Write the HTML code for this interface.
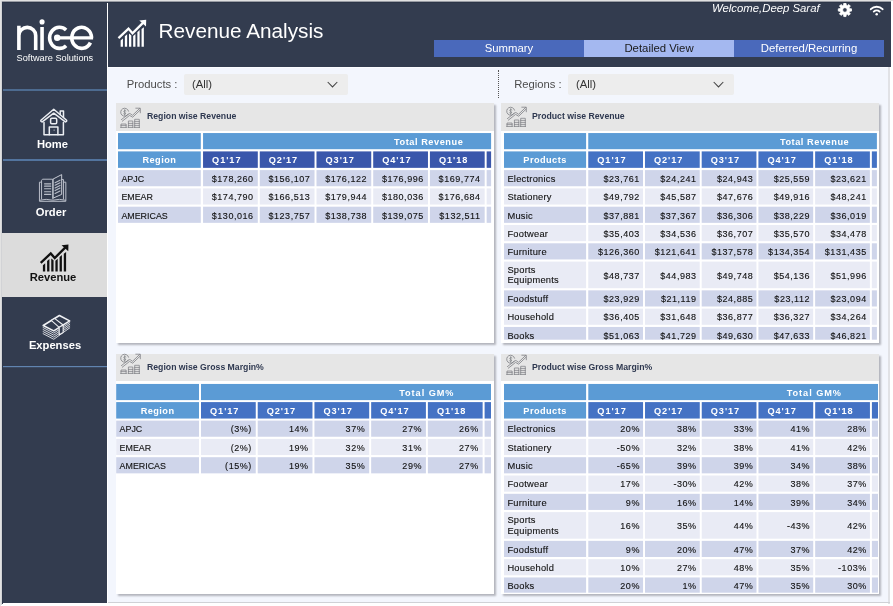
<!DOCTYPE html><html><head><meta charset="utf-8"><title>Revenue Analysis</title><style>
*{box-sizing:border-box;margin:0;padding:0}
html,body{width:893px;height:606px;overflow:hidden;background:#fff}
body{font-family:"Liberation Sans",sans-serif;position:relative;color:#111}
.abs{position:absolute}
#side{left:2px;top:1px;width:105px;height:602px;background:#333c4f}
#head{left:108px;top:1px;width:783px;height:66px;background:#333c4f}
#content{left:108px;top:67px;width:780px;height:536px;background:#f3f6fd}
.navlbl{position:absolute;left:0;width:105px;text-align:center;font-weight:bold;font-size:11.2px;line-height:12px;color:#fff}
.sdiv{position:absolute;left:0;width:105px;height:2px;background:#45607f}
.tab{position:absolute;top:40px;height:17px;width:150px;text-align:center;font-size:11.35px;line-height:17px;color:#fff;background:#4a69bb}
.flt{position:absolute;font-size:11.25px;line-height:14px;color:#333}
.dd{position:absolute;background:#ededed;border-radius:2px}
.panel{position:absolute;background:#fff;box-shadow:1.5px 2px 1.8px rgba(85,85,92,.40)}
.ptitle{position:absolute;left:0;top:0;right:0;background:#e6e6e6}
.ptxt{position:absolute;font-weight:bold;font-size:8.7px;line-height:10px;color:#2e3850;white-space:nowrap}
.t{position:absolute;white-space:nowrap;line-height:12px}
.hd{color:#fff;font-weight:bold;font-size:9.2px;letter-spacing:.45px}
.lbl{font-size:8.9px;letter-spacing:0;color:#111;-webkit-text-stroke:.12px #111}
.num{font-size:9px;letter-spacing:.55px;color:#111;text-align:right;-webkit-text-stroke:.12px #111}
</style></head><body><div id="root" style="position:absolute;left:0;top:0;width:893px;height:606px;will-change:transform">
<div class="abs" style="left:0;top:0;width:893px;height:1px;background:#e1e1e1"></div>
<div class="abs" style="left:0;top:0;width:1px;height:606px;background:#e2e2e2"></div>
<div class="abs" style="left:1px;top:1px;width:1px;height:604px;background:#d2d3d6"></div>
<div class="abs" style="left:2px;top:1px;width:889px;height:1px;background:#999ca4;z-index:5"></div>
<div class="abs" style="left:2px;top:2px;width:889px;height:1px;background:#2c3547;z-index:5"></div>
<div class="abs" style="left:2px;top:2px;width:1px;height:231px;background:#2e374a;z-index:5"></div>
<div class="abs" style="left:2px;top:297px;width:1px;height:307px;background:#2e374a;z-index:5"></div>
<div class="abs" style="left:107px;top:2px;width:1px;height:602px;background:#fff"></div>
<div id="content" class="abs"></div>
<div class="abs" style="left:888px;top:67px;width:2px;height:537px;background:#e1e2e6"></div>
<div class="abs" style="left:108px;top:67px;width:780px;height:1px;background:#fbfcff"></div>
<div class="abs" style="left:108px;top:602px;width:782px;height:1px;background:#cfd1d6"></div>
<div id="side" class="abs">
<svg class="abs" style="left:0;top:0" width="105" height="70" viewBox="2 1 105 70">
<g fill="none" stroke="#fff" stroke-width="3.6">
<path d="M18.9 50.1 V25.7 M18.9 35.4 A8.4 8.0 0 0 1 35.7 35.4 V50.1"/>
<path d="M42.05 27 V50.1"/>
<path d="M66.12 30.01 A9.9 10.55 0 1 0 66.12 45.69"/>
<path d="M91.5 37.8 A9.85 10.55 0 1 0 90.43 42.64"/>
<path d="M57.2 37.8 H93.1" stroke-width="3.2"/>
</g>
<circle cx="42.05" cy="21.9" r="2.55" fill="#fff"/>
<circle cx="57.2" cy="37.8" r="3.25" fill="#fff"/>
</svg>
<div class="abs" style="left:14.6px;top:51.6px;font-size:9.2px;line-height:11px;color:#fff;white-space:nowrap">Software Solutions</div>
<div class="sdiv" style="top:88px;background:#4d6b90"></div>
<div class="sdiv" style="top:158px;background:#53749e"></div>
<div class="abs" style="left:0;top:232px;width:105px;height:64px;background:#dcdcdc"></div>
<div class="sdiv" style="top:365px;height:1px;background:#6184b0"></div><div class="sdiv" style="top:366px;height:1px;background:#3c4a62"></div>
<svg class="abs" style="left:0;top:0" width="105" height="400" viewBox="2 1 105 400"><g fill="none" stroke="#eceef2" stroke-width="1.5" stroke-linejoin="round" stroke-linecap="round">
<path d="M40.9 120.2 L53.75 109.3 L66.6 120.2 Q67.1 121.7 65.3 121.9 L53.75 113.2 L42.2 121.9 Q40.4 121.7 40.9 120.2 Z"/>
<path d="M44 122.4 V134.75 H63.4 V122.4"/>
<path d="M60.2 114.4 V110.9 H63.5 V117.2"/>
<rect x="50.6" y="118.3" width="6.1" height="5.5" rx="1.2"/>
<path d="M49.3 134.75 V126.9 H57.9 V134.75"/>
</g><circle cx="54.1" cy="130.1" r=".6" fill="#d5d8de"/><g fill="none" stroke="#b9bec9" stroke-width="1" stroke-linejoin="round" stroke-linecap="round"><path d="M41.55 182.18 L39.44 182.18 L39.44 201.31 L65.83 201.31 L65.83 182.18 L63.65 182.18 "/><path d="M41.55 199.00 L41.55 180.20 L42.54 179.21 L52.77 179.21 L52.77 199.00 "/><path d="M62.00 179.54 L63.45 179.54 L63.45 199.00 "/><path d="M53.43 178.88 L61.67 174.60 L61.67 194.39 L53.43 198.01 Z" stroke="#c6cad3"/><path d="M39.91 200.19 Q46.17 198.47 52.77 200.19 Q59.36 198.47 65.50 200.19"/><path d="M44.52 183.83 L50.79 183.83 " stroke-width="1.1"/><path d="M44.52 186.14 L50.79 186.14 " stroke-width="1.1"/><path d="M44.52 188.78 L50.79 188.78 " stroke-width="1.1"/><path d="M44.52 191.75 L50.79 191.75 " stroke-width="1.1"/><path d="M44.52 194.39 L50.79 194.39 " stroke-width="1.1"/><path d="M55.08 182.64 L60.02 180.14 " stroke-width="1.1"/><path d="M55.08 185.28 L60.02 182.78 " stroke-width="1.1"/><path d="M55.08 187.92 L60.02 185.41 " stroke-width="1.1"/><path d="M55.08 190.56 L60.02 188.05 " stroke-width="1.1"/><path d="M55.08 193.40 L60.02 190.89 " stroke-width="1.1"/></g><path d="M41.55 262.10 L50.75 253.40 L54.75 258.00 L64.85 248.00" fill="none" stroke="#111" stroke-width="2.3" stroke-linejoin="miter" stroke-linecap="square"/><path d="M61.55 245.20 L68.45 244.60 L68.25 251.30 Z" fill="#111"/><path d="M42.90 271.50 L42.90 265.20 L45.20 263.20 L45.20 271.50 Z" fill="#111"/><path d="M47.10 271.50 L47.10 261.10 L49.40 259.10 L49.40 271.50 Z" fill="#111"/><path d="M51.25 271.50 L51.25 258.40 L53.55 260.20 L53.55 271.50 Z" fill="#111"/><path d="M55.40 271.50 L55.40 260.80 L57.70 258.70 L57.70 271.50 Z" fill="#111"/><path d="M59.60 271.50 L59.60 257.10 L61.90 254.90 L61.90 271.50 Z" fill="#111"/><path d="M63.80 271.50 L63.80 253.70 L66.10 252.00 L66.10 271.50 Z" fill="#111"/><g fill="none" stroke="#f0f1f4" stroke-width="1.05" stroke-linejoin="round" stroke-linecap="round"><path d="M43.10 327.53 L53.79 333.13 L69.75 322.61 " stroke-width=".9" stroke="#e4e6eb"/><path d="M43.10 329.57 L53.79 335.18 L69.75 324.36 " stroke-width=".9" stroke="#e4e6eb"/><path d="M43.10 331.61 L53.79 337.22 L69.75 326.11 " stroke-width=".9" stroke="#e4e6eb"/><path d="M43.10 333.66 L53.79 339.27 L69.75 327.85 " stroke-width=".9" stroke="#e4e6eb"/><path d="M43.17 325.48 L59.40 315.52 L69.69 320.86 L53.79 330.89 Z" stroke-width="1.55"/><path d="M51.28 320.40 L54.58 318.42 L63.16 325.02 L59.20 327.33 Z" fill="#333c4f" stroke-width="1.1"/><path d="M59.20 327.33 L63.16 325.02 L63.16 332.54 L59.20 334.85 Z" fill="#333c4f" stroke-width="1.1"/></g></svg>
<div class="navlbl" style="top:136.5px;left:-2px">Home</div>
<div class="navlbl" style="top:204.5px;left:-3.5px">Order</div>
<div class="navlbl" style="top:270px;left:-1.5px;color:#111">Revenue</div>
<div class="navlbl" style="top:338px;left:.5px">Expenses</div>
</div>
<div id="head" class="abs">
<svg class="abs" style="left:0;top:0" width="60" height="66" viewBox="108 1 60 66"><path d="M119.30 37.30 L128.50 28.60 L132.50 33.20 L142.60 23.20" fill="none" stroke="#fff" stroke-width="2.3" stroke-linejoin="miter" stroke-linecap="square"/><path d="M139.30 20.40 L146.20 19.80 L146.00 26.50 Z" fill="#fff"/><path d="M120.65 46.70 L120.65 40.40 L122.95 38.40 L122.95 46.70 Z" fill="#fff"/><path d="M124.85 46.70 L124.85 36.30 L127.15 34.30 L127.15 46.70 Z" fill="#fff"/><path d="M129.00 46.70 L129.00 33.60 L131.30 35.40 L131.30 46.70 Z" fill="#fff"/><path d="M133.15 46.70 L133.15 36.00 L135.45 33.90 L135.45 46.70 Z" fill="#fff"/><path d="M137.35 46.70 L137.35 32.30 L139.65 30.10 L139.65 46.70 Z" fill="#fff"/><path d="M141.55 46.70 L141.55 28.90 L143.85 27.20 L143.85 46.70 Z" fill="#fff"/></svg>
<div class="abs" style="left:50.5px;top:18px;font-size:20.75px;line-height:24px;color:#fff;white-space:nowrap">Revenue Analysis</div>
<div class="abs" style="left:604px;top:1px;font-size:11.35px;line-height:13px;font-style:italic;color:#fff;white-space:nowrap">Welcome,Deep Saraf</div>
<svg class="abs" style="left:720px;top:0" width="63" height="24" viewBox="828 1 63 24"><path d="M849.74 8.71 L851.50 8.82 L851.50 11.08 L849.74 11.19 L849.20 12.50 L850.37 13.82 L848.77 15.42 L847.45 14.25 L846.14 14.79 L846.03 16.55 L843.77 16.55 L843.66 14.79 L842.35 14.25 L841.03 15.42 L839.43 13.82 L840.60 12.50 L840.06 11.19 L838.30 11.08 L838.30 8.82 L840.06 8.71 L840.60 7.40 L839.43 6.08 L841.03 4.48 L842.35 5.65 L843.66 5.11 L843.77 3.35 L846.03 3.35 L846.14 5.11 L847.45 5.65 L848.77 4.48 L850.37 6.08 L849.20 7.40Z M842.60 9.95 a2.30 2.30 0 1 0 4.60 0 a2.30 2.30 0 1 0 -4.60 0Z" fill="#fff" fill-rule="evenodd" stroke="#fff" stroke-width=".8" stroke-linejoin="round"/><circle cx="876.7" cy="14.3" r="1.25" fill="#fff"/><path d="M873.78 11.58 A4.20 4.20 0 0 1 879.62 11.58" fill="none" stroke="#fff" stroke-width="1.9" stroke-linecap="round"/><path d="M870.80 9.20 A8.20 8.20 0 0 1 882.60 9.20" fill="none" stroke="#fff" stroke-width="1.9" stroke-linecap="round"/></svg>
<div class="tab" style="left:326px;top:39px">Summary</div>
<div class="tab" style="left:476px;top:39px;background:#a4b8f0;color:#1a1a1a">Detailed View</div>
<div class="tab" style="left:626px;top:39px">Deferred/Recurring</div>
</div>
<div class="flt" style="left:126.8px;top:76.5px;color:#4c4c4c">Products :</div>
<div class="dd" style="left:184px;top:74px;width:164px;height:20.5px"></div>
<div class="flt" style="left:192px;top:77px">(All)</div>
<svg class="abs" style="left:326px;top:80px" width="13" height="9" viewBox="0 0 13 9"><path d="M1.7 2.0 L6.5 6.9 L11.3 2.0" fill="none" stroke="#444" stroke-width="1.05"/></svg>
<div class="abs" style="left:497.5px;top:70px;width:0;height:28px;border-left:1px dotted #555"></div>
<div class="flt" style="left:514.2px;top:76.5px;color:#4c4c4c">Regions :</div>
<div class="dd" style="left:568px;top:74px;width:165.5px;height:20.5px"></div>
<div class="flt" style="left:576px;top:77px">(All)</div>
<svg class="abs" style="left:711.5px;top:80px" width="13" height="9" viewBox="0 0 13 9"><path d="M1.7 2.0 L6.5 6.9 L11.3 2.0" fill="none" stroke="#444" stroke-width="1.05"/></svg>
<div class="panel" style="left:116px;top:103px;width:378px;height:240px">
<div class="ptitle" style="height:28.3px"></div>
<svg class="abs" style="left:0.2px;top:0.3px" width="28" height="28" viewBox="0 0 28 28"><g fill="none" stroke="#7d7f84" stroke-width=".8" stroke-linecap="round" stroke-linejoin="round"><path d="M12.2 11.2 A4 4 0 1 1 12.6 8.2"/><path d="M9.9 7.9 Q8.7 6.9 7.9 8 Q7.4 9.1 8.8 9.5 Q10.2 10 9.5 11 Q8.6 11.9 7.6 10.9 M8.7 6.6 V12.2" stroke-width=".7"/><path d="M5.4 16.6 L12.9 10.8 Q13.6 10.2 14.4 10.8 L16.5 12.3 L23.6 5.5"/><path d="M6.3 18.2 L13.6 12.4 L16.7 14.2 L23.9 7.3"/><path d="M19.8 5.2 H24.3 V9.8"/><path d="M4.7 24.4 H10.4"/><path d="M5.0 24.4 V21.0 H10.1 V24.4" stroke-width=".75"/><path d="M5.0 22.4 H10.1" stroke-width=".75"/><path d="M12.1 24.4 H17.1"/><path d="M12.4 24.4 V18.0 H16.8 V24.4" stroke-width=".75"/><path d="M12.4 22.4 H16.8" stroke-width=".75"/><path d="M12.4 20.4 H16.8" stroke-width=".75"/><path d="M18.4 24.4 H23.6"/><path d="M18.7 24.4 V16.3 H23.3 V24.4" stroke-width=".75"/><path d="M18.7 22.4 H23.3" stroke-width=".75"/><path d="M18.7 20.4 H23.3" stroke-width=".75"/><path d="M18.7 18.4 H23.3" stroke-width=".75"/></g></svg>
<div class="ptxt" style="left:31px;top:8px">Region wise Revenue</div>
<svg class="abs" style="left:0;top:0" width="378" height="240" viewBox="0 0 378 240" shape-rendering="auto"><rect x="2" y="30.05" width="82.8" height="16.15" fill="#5b9bd5"/><rect x="87.05" y="30.05" width="288.05" height="16.15" fill="#5b9bd5"/><rect x="2" y="48.4" width="82.8" height="16.45" fill="#5b9bd5"/><rect x="87.05" y="48.4" width="54.75" height="16.45" fill="#3a57ab"/><rect x="143.77" y="48.4" width="54.75" height="16.45" fill="#3a57ab"/><rect x="200.49" y="48.4" width="54.75" height="16.45" fill="#3a57ab"/><rect x="257.21" y="48.4" width="54.75" height="16.45" fill="#3a57ab"/><rect x="313.93" y="48.4" width="54.75" height="16.45" fill="#3a57ab"/><rect x="370.65" y="48.4" width="4.45" height="16.45" fill="#3a57ab"/><rect x="2" y="67.1" width="82.8" height="16.15" fill="#cfd5ea"/><rect x="87.05" y="67.1" width="54.75" height="16.15" fill="#cfd5ea"/><rect x="143.77" y="67.1" width="54.75" height="16.15" fill="#cfd5ea"/><rect x="200.49" y="67.1" width="54.75" height="16.15" fill="#cfd5ea"/><rect x="257.21" y="67.1" width="54.75" height="16.15" fill="#cfd5ea"/><rect x="313.93" y="67.1" width="54.75" height="16.15" fill="#cfd5ea"/><rect x="370.65" y="67.1" width="4.45" height="16.15" fill="#cfd5ea"/><rect x="2" y="85.4" width="82.8" height="16.15" fill="#e9ebf5"/><rect x="87.05" y="85.4" width="54.75" height="16.15" fill="#e9ebf5"/><rect x="143.77" y="85.4" width="54.75" height="16.15" fill="#e9ebf5"/><rect x="200.49" y="85.4" width="54.75" height="16.15" fill="#e9ebf5"/><rect x="257.21" y="85.4" width="54.75" height="16.15" fill="#e9ebf5"/><rect x="313.93" y="85.4" width="54.75" height="16.15" fill="#e9ebf5"/><rect x="370.65" y="85.4" width="4.45" height="16.15" fill="#e9ebf5"/><rect x="2" y="103.7" width="82.8" height="16.15" fill="#cfd5ea"/><rect x="87.05" y="103.7" width="54.75" height="16.15" fill="#cfd5ea"/><rect x="143.77" y="103.7" width="54.75" height="16.15" fill="#cfd5ea"/><rect x="200.49" y="103.7" width="54.75" height="16.15" fill="#cfd5ea"/><rect x="257.21" y="103.7" width="54.75" height="16.15" fill="#cfd5ea"/><rect x="313.93" y="103.7" width="54.75" height="16.15" fill="#cfd5ea"/><rect x="370.65" y="103.7" width="4.45" height="16.15" fill="#cfd5ea"/></svg>
<div class="abs" style="left:0;top:0;width:375.1px;height:239px;overflow:hidden"><div class="t hd" style="left:252.7px;top:33px;width:120px;text-align:center;letter-spacing:0.55px">Total Revenue</div><div class="t hd" style="left:2px;top:51px;width:82.8px;text-align:center">Region</div><div class="t hd" style="left:96.05px;top:51px;width:44px;letter-spacing:.95px">Q1'17</div><div class="t hd" style="left:152.77px;top:51px;width:44px;letter-spacing:.95px">Q2'17</div><div class="t hd" style="left:209.49px;top:51px;width:44px;letter-spacing:.95px">Q3'17</div><div class="t hd" style="left:266.21px;top:51px;width:44px;letter-spacing:.95px">Q4'17</div><div class="t hd" style="left:322.93px;top:51px;width:44px;letter-spacing:.95px">Q1'18</div><div class="t lbl" style="left:5.4px;top:70px;width:79.4px;">APJC</div><div class="t num" style="left:87.05px;top:70px;width:50.65px;">$178,260</div><div class="t num" style="left:143.77px;top:70px;width:50.65px;">$156,107</div><div class="t num" style="left:200.49px;top:70px;width:50.65px;">$176,122</div><div class="t num" style="left:257.21px;top:70px;width:50.65px;">$176,996</div><div class="t num" style="left:313.93px;top:70px;width:50.65px;">$169,774</div><div class="t lbl" style="left:5.4px;top:88px;width:79.4px;">EMEAR</div><div class="t num" style="left:87.05px;top:88px;width:50.65px;">$174,790</div><div class="t num" style="left:143.77px;top:88px;width:50.65px;">$166,513</div><div class="t num" style="left:200.49px;top:88px;width:50.65px;">$179,944</div><div class="t num" style="left:257.21px;top:88px;width:50.65px;">$180,036</div><div class="t num" style="left:313.93px;top:88px;width:50.65px;">$176,684</div><div class="t lbl" style="left:5.4px;top:107px;width:79.4px;">AMERICAS</div><div class="t num" style="left:87.05px;top:107px;width:50.65px;">$130,016</div><div class="t num" style="left:143.77px;top:107px;width:50.65px;">$123,757</div><div class="t num" style="left:200.49px;top:107px;width:50.65px;">$138,738</div><div class="t num" style="left:257.21px;top:107px;width:50.65px;">$139,075</div><div class="t num" style="left:313.93px;top:107px;width:50.65px;">$132,511</div></div>
</div>
<div class="panel" style="left:501px;top:103px;width:378px;height:240px">
<div class="ptitle" style="height:28.3px"></div>
<svg class="abs" style="left:1.0px;top:-1.5px" width="28" height="28" viewBox="0 0 28 28"><g fill="none" stroke="#7d7f84" stroke-width=".8" stroke-linecap="round" stroke-linejoin="round"><path d="M12.2 11.2 A4 4 0 1 1 12.6 8.2"/><path d="M9.9 7.9 Q8.7 6.9 7.9 8 Q7.4 9.1 8.8 9.5 Q10.2 10 9.5 11 Q8.6 11.9 7.6 10.9 M8.7 6.6 V12.2" stroke-width=".7"/><path d="M5.4 16.6 L12.9 10.8 Q13.6 10.2 14.4 10.8 L16.5 12.3 L23.6 5.5"/><path d="M6.3 18.2 L13.6 12.4 L16.7 14.2 L23.9 7.3"/><path d="M19.8 5.2 H24.3 V9.8"/><path d="M4.7 24.4 H10.4"/><path d="M5.0 24.4 V21.0 H10.1 V24.4" stroke-width=".75"/><path d="M5.0 22.4 H10.1" stroke-width=".75"/><path d="M12.1 24.4 H17.1"/><path d="M12.4 24.4 V18.0 H16.8 V24.4" stroke-width=".75"/><path d="M12.4 22.4 H16.8" stroke-width=".75"/><path d="M12.4 20.4 H16.8" stroke-width=".75"/><path d="M18.4 24.4 H23.6"/><path d="M18.7 24.4 V16.3 H23.3 V24.4" stroke-width=".75"/><path d="M18.7 22.4 H23.3" stroke-width=".75"/><path d="M18.7 20.4 H23.3" stroke-width=".75"/><path d="M18.7 18.4 H23.3" stroke-width=".75"/></g></svg>
<div class="ptxt" style="left:31px;top:8px">Product wise Revenue</div>
<svg class="abs" style="left:0;top:0" width="378" height="240" viewBox="0 0 378 240" shape-rendering="auto"><rect x="3" y="30.05" width="82.1" height="16.15" fill="#5b9bd5"/><rect x="87.25" y="30.05" width="288.65" height="16.15" fill="#5b9bd5"/><rect x="3" y="48.4" width="82.1" height="16.45" fill="#5b9bd5"/><rect x="87.25" y="48.4" width="54.75" height="16.45" fill="#4472c4"/><rect x="143.97" y="48.4" width="54.75" height="16.45" fill="#4472c4"/><rect x="200.69" y="48.4" width="54.75" height="16.45" fill="#4472c4"/><rect x="257.41" y="48.4" width="54.75" height="16.45" fill="#4472c4"/><rect x="314.13" y="48.4" width="54.75" height="16.45" fill="#4472c4"/><rect x="370.85" y="48.4" width="5.05" height="16.45" fill="#4472c4"/><rect x="3" y="67.1" width="82.1" height="16.15" fill="#cfd5ea"/><rect x="87.25" y="67.1" width="54.75" height="16.15" fill="#cfd5ea"/><rect x="143.97" y="67.1" width="54.75" height="16.15" fill="#cfd5ea"/><rect x="200.69" y="67.1" width="54.75" height="16.15" fill="#cfd5ea"/><rect x="257.41" y="67.1" width="54.75" height="16.15" fill="#cfd5ea"/><rect x="314.13" y="67.1" width="54.75" height="16.15" fill="#cfd5ea"/><rect x="370.85" y="67.1" width="5.05" height="16.15" fill="#cfd5ea"/><rect x="3" y="85.4" width="82.1" height="16.15" fill="#e9ebf5"/><rect x="87.25" y="85.4" width="54.75" height="16.15" fill="#e9ebf5"/><rect x="143.97" y="85.4" width="54.75" height="16.15" fill="#e9ebf5"/><rect x="200.69" y="85.4" width="54.75" height="16.15" fill="#e9ebf5"/><rect x="257.41" y="85.4" width="54.75" height="16.15" fill="#e9ebf5"/><rect x="314.13" y="85.4" width="54.75" height="16.15" fill="#e9ebf5"/><rect x="370.85" y="85.4" width="5.05" height="16.15" fill="#e9ebf5"/><rect x="3" y="103.7" width="82.1" height="16.15" fill="#cfd5ea"/><rect x="87.25" y="103.7" width="54.75" height="16.15" fill="#cfd5ea"/><rect x="143.97" y="103.7" width="54.75" height="16.15" fill="#cfd5ea"/><rect x="200.69" y="103.7" width="54.75" height="16.15" fill="#cfd5ea"/><rect x="257.41" y="103.7" width="54.75" height="16.15" fill="#cfd5ea"/><rect x="314.13" y="103.7" width="54.75" height="16.15" fill="#cfd5ea"/><rect x="370.85" y="103.7" width="5.05" height="16.15" fill="#cfd5ea"/><rect x="3" y="122.0" width="82.1" height="16.15" fill="#e9ebf5"/><rect x="87.25" y="122.0" width="54.75" height="16.15" fill="#e9ebf5"/><rect x="143.97" y="122.0" width="54.75" height="16.15" fill="#e9ebf5"/><rect x="200.69" y="122.0" width="54.75" height="16.15" fill="#e9ebf5"/><rect x="257.41" y="122.0" width="54.75" height="16.15" fill="#e9ebf5"/><rect x="314.13" y="122.0" width="54.75" height="16.15" fill="#e9ebf5"/><rect x="370.85" y="122.0" width="5.05" height="16.15" fill="#e9ebf5"/><rect x="3" y="140.3" width="82.1" height="16.15" fill="#cfd5ea"/><rect x="87.25" y="140.3" width="54.75" height="16.15" fill="#cfd5ea"/><rect x="143.97" y="140.3" width="54.75" height="16.15" fill="#cfd5ea"/><rect x="200.69" y="140.3" width="54.75" height="16.15" fill="#cfd5ea"/><rect x="257.41" y="140.3" width="54.75" height="16.15" fill="#cfd5ea"/><rect x="314.13" y="140.3" width="54.75" height="16.15" fill="#cfd5ea"/><rect x="370.85" y="140.3" width="5.05" height="16.15" fill="#cfd5ea"/><rect x="3" y="158.6" width="82.1" height="26.6" fill="#e9ebf5"/><rect x="87.25" y="158.6" width="54.75" height="26.6" fill="#e9ebf5"/><rect x="143.97" y="158.6" width="54.75" height="26.6" fill="#e9ebf5"/><rect x="200.69" y="158.6" width="54.75" height="26.6" fill="#e9ebf5"/><rect x="257.41" y="158.6" width="54.75" height="26.6" fill="#e9ebf5"/><rect x="314.13" y="158.6" width="54.75" height="26.6" fill="#e9ebf5"/><rect x="370.85" y="158.6" width="5.05" height="26.6" fill="#e9ebf5"/><rect x="3" y="187.35" width="82.1" height="16.15" fill="#cfd5ea"/><rect x="87.25" y="187.35" width="54.75" height="16.15" fill="#cfd5ea"/><rect x="143.97" y="187.35" width="54.75" height="16.15" fill="#cfd5ea"/><rect x="200.69" y="187.35" width="54.75" height="16.15" fill="#cfd5ea"/><rect x="257.41" y="187.35" width="54.75" height="16.15" fill="#cfd5ea"/><rect x="314.13" y="187.35" width="54.75" height="16.15" fill="#cfd5ea"/><rect x="370.85" y="187.35" width="5.05" height="16.15" fill="#cfd5ea"/><rect x="3" y="205.65" width="82.1" height="16.15" fill="#e9ebf5"/><rect x="87.25" y="205.65" width="54.75" height="16.15" fill="#e9ebf5"/><rect x="143.97" y="205.65" width="54.75" height="16.15" fill="#e9ebf5"/><rect x="200.69" y="205.65" width="54.75" height="16.15" fill="#e9ebf5"/><rect x="257.41" y="205.65" width="54.75" height="16.15" fill="#e9ebf5"/><rect x="314.13" y="205.65" width="54.75" height="16.15" fill="#e9ebf5"/><rect x="370.85" y="205.65" width="5.05" height="16.15" fill="#e9ebf5"/><rect x="3" y="223.95" width="82.1" height="12.75" fill="#cfd5ea"/><rect x="87.25" y="223.95" width="54.75" height="12.75" fill="#cfd5ea"/><rect x="143.97" y="223.95" width="54.75" height="12.75" fill="#cfd5ea"/><rect x="200.69" y="223.95" width="54.75" height="12.75" fill="#cfd5ea"/><rect x="257.41" y="223.95" width="54.75" height="12.75" fill="#cfd5ea"/><rect x="314.13" y="223.95" width="54.75" height="12.75" fill="#cfd5ea"/><rect x="370.85" y="223.95" width="5.05" height="12.75" fill="#cfd5ea"/></svg>
<div class="abs" style="left:0;top:0;width:375.9px;height:236.7px;overflow:hidden"><div class="t hd" style="left:253.6px;top:33px;width:120px;text-align:center;letter-spacing:0.55px">Total Revenue</div><div class="t hd" style="left:3px;top:51px;width:82.1px;text-align:center">Products</div><div class="t hd" style="left:96.25px;top:51px;width:44px;letter-spacing:.95px">Q1'17</div><div class="t hd" style="left:152.97px;top:51px;width:44px;letter-spacing:.95px">Q2'17</div><div class="t hd" style="left:209.69px;top:51px;width:44px;letter-spacing:.95px">Q3'17</div><div class="t hd" style="left:266.41px;top:51px;width:44px;letter-spacing:.95px">Q4'17</div><div class="t hd" style="left:323.13px;top:51px;width:44px;letter-spacing:.95px">Q1'18</div><div class="t lbl" style="left:6.4px;top:70px;width:78.7px;font-size:9.3px;letter-spacing:.25px">Electronics</div><div class="t num" style="left:87.25px;top:70px;width:51.65px;">$23,761</div><div class="t num" style="left:143.97px;top:70px;width:51.65px;">$24,241</div><div class="t num" style="left:200.69px;top:70px;width:51.65px;">$24,943</div><div class="t num" style="left:257.41px;top:70px;width:51.65px;">$25,559</div><div class="t num" style="left:314.13px;top:70px;width:51.65px;">$23,621</div><div class="t lbl" style="left:6.4px;top:88px;width:78.7px;font-size:9.3px;letter-spacing:.25px">Stationery</div><div class="t num" style="left:87.25px;top:88px;width:51.65px;">$49,792</div><div class="t num" style="left:143.97px;top:88px;width:51.65px;">$45,587</div><div class="t num" style="left:200.69px;top:88px;width:51.65px;">$47,676</div><div class="t num" style="left:257.41px;top:88px;width:51.65px;">$49,916</div><div class="t num" style="left:314.13px;top:88px;width:51.65px;">$48,241</div><div class="t lbl" style="left:6.4px;top:107px;width:78.7px;font-size:9.3px;letter-spacing:.25px">Music</div><div class="t num" style="left:87.25px;top:107px;width:51.65px;">$37,881</div><div class="t num" style="left:143.97px;top:107px;width:51.65px;">$37,367</div><div class="t num" style="left:200.69px;top:107px;width:51.65px;">$36,306</div><div class="t num" style="left:257.41px;top:107px;width:51.65px;">$38,229</div><div class="t num" style="left:314.13px;top:107px;width:51.65px;">$36,019</div><div class="t lbl" style="left:6.4px;top:125px;width:78.7px;font-size:9.3px;letter-spacing:.25px">Footwear</div><div class="t num" style="left:87.25px;top:125px;width:51.65px;">$35,403</div><div class="t num" style="left:143.97px;top:125px;width:51.65px;">$34,536</div><div class="t num" style="left:200.69px;top:125px;width:51.65px;">$36,707</div><div class="t num" style="left:257.41px;top:125px;width:51.65px;">$35,570</div><div class="t num" style="left:314.13px;top:125px;width:51.65px;">$34,478</div><div class="t lbl" style="left:6.4px;top:143px;width:78.7px;font-size:9.3px;letter-spacing:.25px">Furniture</div><div class="t num" style="left:87.25px;top:143px;width:51.65px;">$126,360</div><div class="t num" style="left:143.97px;top:143px;width:51.65px;">$121,641</div><div class="t num" style="left:200.69px;top:143px;width:51.65px;">$137,578</div><div class="t num" style="left:257.41px;top:143px;width:51.65px;">$134,354</div><div class="t num" style="left:314.13px;top:143px;width:51.65px;">$131,435</div><div class="t lbl" style="left:6.4px;top:161px;font-size:9.3px;letter-spacing:.25px">Sports</div><div class="t lbl" style="left:6.4px;top:171px;font-size:9.3px;letter-spacing:.25px">Equipments</div><div class="t num" style="left:87.25px;top:167px;width:51.65px;">$48,737</div><div class="t num" style="left:143.97px;top:167px;width:51.65px;">$44,983</div><div class="t num" style="left:200.69px;top:167px;width:51.65px;">$49,748</div><div class="t num" style="left:257.41px;top:167px;width:51.65px;">$54,136</div><div class="t num" style="left:314.13px;top:167px;width:51.65px;">$51,996</div><div class="t lbl" style="left:6.4px;top:190px;width:78.7px;font-size:9.3px;letter-spacing:.25px">Foodstuff</div><div class="t num" style="left:87.25px;top:190px;width:51.65px;">$23,929</div><div class="t num" style="left:143.97px;top:190px;width:51.65px;">$21,119</div><div class="t num" style="left:200.69px;top:190px;width:51.65px;">$24,885</div><div class="t num" style="left:257.41px;top:190px;width:51.65px;">$23,112</div><div class="t num" style="left:314.13px;top:190px;width:51.65px;">$23,094</div><div class="t lbl" style="left:6.4px;top:208px;width:78.7px;font-size:9.3px;letter-spacing:.25px">Household</div><div class="t num" style="left:87.25px;top:208px;width:51.65px;">$36,405</div><div class="t num" style="left:143.97px;top:208px;width:51.65px;">$31,648</div><div class="t num" style="left:200.69px;top:208px;width:51.65px;">$36,877</div><div class="t num" style="left:257.41px;top:208px;width:51.65px;">$36,327</div><div class="t num" style="left:314.13px;top:208px;width:51.65px;">$34,264</div><div class="t lbl" style="left:6.4px;top:227px;width:78.7px;font-size:9.3px;letter-spacing:.25px">Books</div><div class="t num" style="left:87.25px;top:227px;width:51.65px;">$51,063</div><div class="t num" style="left:143.97px;top:227px;width:51.65px;">$41,729</div><div class="t num" style="left:200.69px;top:227px;width:51.65px;">$49,630</div><div class="t num" style="left:257.41px;top:227px;width:51.65px;">$47,633</div><div class="t num" style="left:314.13px;top:227px;width:51.65px;">$46,821</div></div>
</div>
<div class="panel" style="left:116px;top:354px;width:378px;height:240px">
<div class="ptitle" style="height:27.4px"></div>
<svg class="abs" style="left:0.2px;top:-5.2px" width="28" height="28" viewBox="0 0 28 28"><g fill="none" stroke="#7d7f84" stroke-width=".8" stroke-linecap="round" stroke-linejoin="round"><path d="M12.2 11.2 A4 4 0 1 1 12.6 8.2"/><path d="M9.9 7.9 Q8.7 6.9 7.9 8 Q7.4 9.1 8.8 9.5 Q10.2 10 9.5 11 Q8.6 11.9 7.6 10.9 M8.7 6.6 V12.2" stroke-width=".7"/><path d="M5.4 16.6 L12.9 10.8 Q13.6 10.2 14.4 10.8 L16.5 12.3 L23.6 5.5"/><path d="M6.3 18.2 L13.6 12.4 L16.7 14.2 L23.9 7.3"/><path d="M19.8 5.2 H24.3 V9.8"/><path d="M4.7 24.4 H10.4"/><path d="M5.0 24.4 V21.0 H10.1 V24.4" stroke-width=".75"/><path d="M5.0 22.4 H10.1" stroke-width=".75"/><path d="M12.1 24.4 H17.1"/><path d="M12.4 24.4 V18.0 H16.8 V24.4" stroke-width=".75"/><path d="M12.4 22.4 H16.8" stroke-width=".75"/><path d="M12.4 20.4 H16.8" stroke-width=".75"/><path d="M18.4 24.4 H23.6"/><path d="M18.7 24.4 V16.3 H23.3 V24.4" stroke-width=".75"/><path d="M18.7 22.4 H23.3" stroke-width=".75"/><path d="M18.7 20.4 H23.3" stroke-width=".75"/><path d="M18.7 18.4 H23.3" stroke-width=".75"/></g></svg>
<div class="ptxt" style="left:31px;top:8px">Region wise Gross Margin%</div>
<svg class="abs" style="left:0;top:0" width="378" height="240" viewBox="0 0 378 240" shape-rendering="auto"><rect x="0.2" y="29.95" width="82.8" height="16.15" fill="#5b9bd5"/><rect x="85.0" y="29.95" width="290.0" height="16.15" fill="#5b9bd5"/><rect x="0.2" y="48.1" width="82.8" height="16.45" fill="#5b9bd5"/><rect x="85.0" y="48.1" width="54.75" height="16.45" fill="#4472c4"/><rect x="141.72" y="48.1" width="54.75" height="16.45" fill="#4472c4"/><rect x="198.44" y="48.1" width="54.75" height="16.45" fill="#4472c4"/><rect x="255.16" y="48.1" width="54.75" height="16.45" fill="#4472c4"/><rect x="311.88" y="48.1" width="54.75" height="16.45" fill="#4472c4"/><rect x="368.6" y="48.1" width="6.4" height="16.45" fill="#4472c4"/><rect x="0.2" y="66.6" width="82.8" height="16.15" fill="#cfd5ea"/><rect x="85.0" y="66.6" width="54.75" height="16.15" fill="#cfd5ea"/><rect x="141.72" y="66.6" width="54.75" height="16.15" fill="#cfd5ea"/><rect x="198.44" y="66.6" width="54.75" height="16.15" fill="#cfd5ea"/><rect x="255.16" y="66.6" width="54.75" height="16.15" fill="#cfd5ea"/><rect x="311.88" y="66.6" width="54.75" height="16.15" fill="#cfd5ea"/><rect x="368.6" y="66.6" width="6.4" height="16.15" fill="#cfd5ea"/><rect x="0.2" y="84.9" width="82.8" height="16.15" fill="#e9ebf5"/><rect x="85.0" y="84.9" width="54.75" height="16.15" fill="#e9ebf5"/><rect x="141.72" y="84.9" width="54.75" height="16.15" fill="#e9ebf5"/><rect x="198.44" y="84.9" width="54.75" height="16.15" fill="#e9ebf5"/><rect x="255.16" y="84.9" width="54.75" height="16.15" fill="#e9ebf5"/><rect x="311.88" y="84.9" width="54.75" height="16.15" fill="#e9ebf5"/><rect x="368.6" y="84.9" width="6.4" height="16.15" fill="#e9ebf5"/><rect x="0.2" y="103.2" width="82.8" height="16.15" fill="#cfd5ea"/><rect x="85.0" y="103.2" width="54.75" height="16.15" fill="#cfd5ea"/><rect x="141.72" y="103.2" width="54.75" height="16.15" fill="#cfd5ea"/><rect x="198.44" y="103.2" width="54.75" height="16.15" fill="#cfd5ea"/><rect x="255.16" y="103.2" width="54.75" height="16.15" fill="#cfd5ea"/><rect x="311.88" y="103.2" width="54.75" height="16.15" fill="#cfd5ea"/><rect x="368.6" y="103.2" width="6.4" height="16.15" fill="#cfd5ea"/></svg>
<div class="abs" style="left:0;top:0;width:375.0px;height:239px;overflow:hidden"><div class="t hd" style="left:250.8px;top:33px;width:120px;text-align:center;letter-spacing:0.95px">Total GM%</div><div class="t hd" style="left:0.2px;top:51px;width:82.8px;text-align:center">Region</div><div class="t hd" style="left:94.0px;top:51px;width:44px;letter-spacing:.95px">Q1'17</div><div class="t hd" style="left:150.72px;top:51px;width:44px;letter-spacing:.95px">Q2'17</div><div class="t hd" style="left:207.44px;top:51px;width:44px;letter-spacing:.95px">Q3'17</div><div class="t hd" style="left:264.16px;top:51px;width:44px;letter-spacing:.95px">Q4'17</div><div class="t hd" style="left:320.88px;top:51px;width:44px;letter-spacing:.95px">Q1'18</div><div class="t lbl" style="left:3.6px;top:69px;width:79.4px;">APJC</div><div class="t num" style="left:85.0px;top:69px;width:50.85px;">(3%)</div><div class="t num" style="left:141.72px;top:69px;width:50.85px;">14%</div><div class="t num" style="left:198.44px;top:69px;width:50.85px;">37%</div><div class="t num" style="left:255.16px;top:69px;width:50.85px;">27%</div><div class="t num" style="left:311.88px;top:69px;width:50.85px;">26%</div><div class="t lbl" style="left:3.6px;top:88px;width:79.4px;">EMEAR</div><div class="t num" style="left:85.0px;top:88px;width:50.85px;">(2%)</div><div class="t num" style="left:141.72px;top:88px;width:50.85px;">19%</div><div class="t num" style="left:198.44px;top:88px;width:50.85px;">32%</div><div class="t num" style="left:255.16px;top:88px;width:50.85px;">31%</div><div class="t num" style="left:311.88px;top:88px;width:50.85px;">27%</div><div class="t lbl" style="left:3.6px;top:106px;width:79.4px;">AMERICAS</div><div class="t num" style="left:85.0px;top:106px;width:50.85px;">(15%)</div><div class="t num" style="left:141.72px;top:106px;width:50.85px;">19%</div><div class="t num" style="left:198.44px;top:106px;width:50.85px;">35%</div><div class="t num" style="left:255.16px;top:106px;width:50.85px;">29%</div><div class="t num" style="left:311.88px;top:106px;width:50.85px;">27%</div></div>
</div>
<div class="panel" style="left:501px;top:354px;width:378px;height:240px">
<div class="ptitle" style="height:27.4px"></div>
<svg class="abs" style="left:1.0px;top:-4.3px" width="28" height="28" viewBox="0 0 28 28"><g fill="none" stroke="#7d7f84" stroke-width=".8" stroke-linecap="round" stroke-linejoin="round"><path d="M12.2 11.2 A4 4 0 1 1 12.6 8.2"/><path d="M9.9 7.9 Q8.7 6.9 7.9 8 Q7.4 9.1 8.8 9.5 Q10.2 10 9.5 11 Q8.6 11.9 7.6 10.9 M8.7 6.6 V12.2" stroke-width=".7"/><path d="M5.4 16.6 L12.9 10.8 Q13.6 10.2 14.4 10.8 L16.5 12.3 L23.6 5.5"/><path d="M6.3 18.2 L13.6 12.4 L16.7 14.2 L23.9 7.3"/><path d="M19.8 5.2 H24.3 V9.8"/><path d="M4.7 24.4 H10.4"/><path d="M5.0 24.4 V21.0 H10.1 V24.4" stroke-width=".75"/><path d="M5.0 22.4 H10.1" stroke-width=".75"/><path d="M12.1 24.4 H17.1"/><path d="M12.4 24.4 V18.0 H16.8 V24.4" stroke-width=".75"/><path d="M12.4 22.4 H16.8" stroke-width=".75"/><path d="M12.4 20.4 H16.8" stroke-width=".75"/><path d="M18.4 24.4 H23.6"/><path d="M18.7 24.4 V16.3 H23.3 V24.4" stroke-width=".75"/><path d="M18.7 22.4 H23.3" stroke-width=".75"/><path d="M18.7 20.4 H23.3" stroke-width=".75"/><path d="M18.7 18.4 H23.3" stroke-width=".75"/></g></svg>
<div class="ptxt" style="left:31px;top:8px">Product wise Gross Margin%</div>
<svg class="abs" style="left:0;top:0" width="378" height="240" viewBox="0 0 378 240" shape-rendering="auto"><rect x="3" y="29.95" width="82.1" height="16.15" fill="#5b9bd5"/><rect x="87.3" y="29.95" width="289.7" height="16.15" fill="#5b9bd5"/><rect x="3" y="48.1" width="82.1" height="16.45" fill="#5b9bd5"/><rect x="87.3" y="48.1" width="54.75" height="16.45" fill="#4472c4"/><rect x="144.02" y="48.1" width="54.75" height="16.45" fill="#4472c4"/><rect x="200.74" y="48.1" width="54.75" height="16.45" fill="#4472c4"/><rect x="257.46" y="48.1" width="54.75" height="16.45" fill="#4472c4"/><rect x="314.18" y="48.1" width="54.75" height="16.45" fill="#4472c4"/><rect x="370.9" y="48.1" width="6.1" height="16.45" fill="#4472c4"/><rect x="3" y="66.6" width="82.1" height="16.15" fill="#cfd5ea"/><rect x="87.3" y="66.6" width="54.75" height="16.15" fill="#cfd5ea"/><rect x="144.02" y="66.6" width="54.75" height="16.15" fill="#cfd5ea"/><rect x="200.74" y="66.6" width="54.75" height="16.15" fill="#cfd5ea"/><rect x="257.46" y="66.6" width="54.75" height="16.15" fill="#cfd5ea"/><rect x="314.18" y="66.6" width="54.75" height="16.15" fill="#cfd5ea"/><rect x="370.9" y="66.6" width="6.1" height="16.15" fill="#cfd5ea"/><rect x="3" y="84.9" width="82.1" height="16.15" fill="#e9ebf5"/><rect x="87.3" y="84.9" width="54.75" height="16.15" fill="#e9ebf5"/><rect x="144.02" y="84.9" width="54.75" height="16.15" fill="#e9ebf5"/><rect x="200.74" y="84.9" width="54.75" height="16.15" fill="#e9ebf5"/><rect x="257.46" y="84.9" width="54.75" height="16.15" fill="#e9ebf5"/><rect x="314.18" y="84.9" width="54.75" height="16.15" fill="#e9ebf5"/><rect x="370.9" y="84.9" width="6.1" height="16.15" fill="#e9ebf5"/><rect x="3" y="103.2" width="82.1" height="16.15" fill="#cfd5ea"/><rect x="87.3" y="103.2" width="54.75" height="16.15" fill="#cfd5ea"/><rect x="144.02" y="103.2" width="54.75" height="16.15" fill="#cfd5ea"/><rect x="200.74" y="103.2" width="54.75" height="16.15" fill="#cfd5ea"/><rect x="257.46" y="103.2" width="54.75" height="16.15" fill="#cfd5ea"/><rect x="314.18" y="103.2" width="54.75" height="16.15" fill="#cfd5ea"/><rect x="370.9" y="103.2" width="6.1" height="16.15" fill="#cfd5ea"/><rect x="3" y="121.5" width="82.1" height="16.15" fill="#e9ebf5"/><rect x="87.3" y="121.5" width="54.75" height="16.15" fill="#e9ebf5"/><rect x="144.02" y="121.5" width="54.75" height="16.15" fill="#e9ebf5"/><rect x="200.74" y="121.5" width="54.75" height="16.15" fill="#e9ebf5"/><rect x="257.46" y="121.5" width="54.75" height="16.15" fill="#e9ebf5"/><rect x="314.18" y="121.5" width="54.75" height="16.15" fill="#e9ebf5"/><rect x="370.9" y="121.5" width="6.1" height="16.15" fill="#e9ebf5"/><rect x="3" y="139.8" width="82.1" height="16.15" fill="#cfd5ea"/><rect x="87.3" y="139.8" width="54.75" height="16.15" fill="#cfd5ea"/><rect x="144.02" y="139.8" width="54.75" height="16.15" fill="#cfd5ea"/><rect x="200.74" y="139.8" width="54.75" height="16.15" fill="#cfd5ea"/><rect x="257.46" y="139.8" width="54.75" height="16.15" fill="#cfd5ea"/><rect x="314.18" y="139.8" width="54.75" height="16.15" fill="#cfd5ea"/><rect x="370.9" y="139.8" width="6.1" height="16.15" fill="#cfd5ea"/><rect x="3" y="158.1" width="82.1" height="26.6" fill="#e9ebf5"/><rect x="87.3" y="158.1" width="54.75" height="26.6" fill="#e9ebf5"/><rect x="144.02" y="158.1" width="54.75" height="26.6" fill="#e9ebf5"/><rect x="200.74" y="158.1" width="54.75" height="26.6" fill="#e9ebf5"/><rect x="257.46" y="158.1" width="54.75" height="26.6" fill="#e9ebf5"/><rect x="314.18" y="158.1" width="54.75" height="26.6" fill="#e9ebf5"/><rect x="370.9" y="158.1" width="6.1" height="26.6" fill="#e9ebf5"/><rect x="3" y="186.85" width="82.1" height="16.15" fill="#cfd5ea"/><rect x="87.3" y="186.85" width="54.75" height="16.15" fill="#cfd5ea"/><rect x="144.02" y="186.85" width="54.75" height="16.15" fill="#cfd5ea"/><rect x="200.74" y="186.85" width="54.75" height="16.15" fill="#cfd5ea"/><rect x="257.46" y="186.85" width="54.75" height="16.15" fill="#cfd5ea"/><rect x="314.18" y="186.85" width="54.75" height="16.15" fill="#cfd5ea"/><rect x="370.9" y="186.85" width="6.1" height="16.15" fill="#cfd5ea"/><rect x="3" y="205.15" width="82.1" height="16.15" fill="#e9ebf5"/><rect x="87.3" y="205.15" width="54.75" height="16.15" fill="#e9ebf5"/><rect x="144.02" y="205.15" width="54.75" height="16.15" fill="#e9ebf5"/><rect x="200.74" y="205.15" width="54.75" height="16.15" fill="#e9ebf5"/><rect x="257.46" y="205.15" width="54.75" height="16.15" fill="#e9ebf5"/><rect x="314.18" y="205.15" width="54.75" height="16.15" fill="#e9ebf5"/><rect x="370.9" y="205.15" width="6.1" height="16.15" fill="#e9ebf5"/><rect x="3" y="223.45" width="82.1" height="15.25" fill="#cfd5ea"/><rect x="87.3" y="223.45" width="54.75" height="15.25" fill="#cfd5ea"/><rect x="144.02" y="223.45" width="54.75" height="15.25" fill="#cfd5ea"/><rect x="200.74" y="223.45" width="54.75" height="15.25" fill="#cfd5ea"/><rect x="257.46" y="223.45" width="54.75" height="15.25" fill="#cfd5ea"/><rect x="314.18" y="223.45" width="54.75" height="15.25" fill="#cfd5ea"/><rect x="370.9" y="223.45" width="6.1" height="15.25" fill="#cfd5ea"/></svg>
<div class="abs" style="left:0;top:0;width:377.0px;height:238.7px;overflow:hidden"><div class="t hd" style="left:253.3px;top:33px;width:120px;text-align:center;letter-spacing:0.95px">Total GM%</div><div class="t hd" style="left:3px;top:51px;width:82.1px;text-align:center">Products</div><div class="t hd" style="left:96.3px;top:51px;width:44px;letter-spacing:.95px">Q1'17</div><div class="t hd" style="left:153.02px;top:51px;width:44px;letter-spacing:.95px">Q2'17</div><div class="t hd" style="left:209.74px;top:51px;width:44px;letter-spacing:.95px">Q3'17</div><div class="t hd" style="left:266.46px;top:51px;width:44px;letter-spacing:.95px">Q4'17</div><div class="t hd" style="left:323.18px;top:51px;width:44px;letter-spacing:.95px">Q1'18</div><div class="t lbl" style="left:6.4px;top:69px;width:78.7px;font-size:9.3px;letter-spacing:.25px">Electronics</div><div class="t num" style="left:87.3px;top:69px;width:51.65px;">20%</div><div class="t num" style="left:144.02px;top:69px;width:51.65px;">38%</div><div class="t num" style="left:200.74px;top:69px;width:51.65px;">33%</div><div class="t num" style="left:257.46px;top:69px;width:51.65px;">41%</div><div class="t num" style="left:314.18px;top:69px;width:51.65px;">28%</div><div class="t lbl" style="left:6.4px;top:88px;width:78.7px;font-size:9.3px;letter-spacing:.25px">Stationery</div><div class="t num" style="left:87.3px;top:88px;width:51.65px;">-50%</div><div class="t num" style="left:144.02px;top:88px;width:51.65px;">32%</div><div class="t num" style="left:200.74px;top:88px;width:51.65px;">38%</div><div class="t num" style="left:257.46px;top:88px;width:51.65px;">41%</div><div class="t num" style="left:314.18px;top:88px;width:51.65px;">42%</div><div class="t lbl" style="left:6.4px;top:106px;width:78.7px;font-size:9.3px;letter-spacing:.25px">Music</div><div class="t num" style="left:87.3px;top:106px;width:51.65px;">-65%</div><div class="t num" style="left:144.02px;top:106px;width:51.65px;">39%</div><div class="t num" style="left:200.74px;top:106px;width:51.65px;">39%</div><div class="t num" style="left:257.46px;top:106px;width:51.65px;">34%</div><div class="t num" style="left:314.18px;top:106px;width:51.65px;">38%</div><div class="t lbl" style="left:6.4px;top:124px;width:78.7px;font-size:9.3px;letter-spacing:.25px">Footwear</div><div class="t num" style="left:87.3px;top:124px;width:51.65px;">17%</div><div class="t num" style="left:144.02px;top:124px;width:51.65px;">-30%</div><div class="t num" style="left:200.74px;top:124px;width:51.65px;">42%</div><div class="t num" style="left:257.46px;top:124px;width:51.65px;">38%</div><div class="t num" style="left:314.18px;top:124px;width:51.65px;">37%</div><div class="t lbl" style="left:6.4px;top:143px;width:78.7px;font-size:9.3px;letter-spacing:.25px">Furniture</div><div class="t num" style="left:87.3px;top:143px;width:51.65px;">9%</div><div class="t num" style="left:144.02px;top:143px;width:51.65px;">16%</div><div class="t num" style="left:200.74px;top:143px;width:51.65px;">14%</div><div class="t num" style="left:257.46px;top:143px;width:51.65px;">39%</div><div class="t num" style="left:314.18px;top:143px;width:51.65px;">34%</div><div class="t lbl" style="left:6.4px;top:160px;font-size:9.3px;letter-spacing:.25px">Sports</div><div class="t lbl" style="left:6.4px;top:171px;font-size:9.3px;letter-spacing:.25px">Equipments</div><div class="t num" style="left:87.3px;top:166px;width:51.65px;">16%</div><div class="t num" style="left:144.02px;top:166px;width:51.65px;">35%</div><div class="t num" style="left:200.74px;top:166px;width:51.65px;">44%</div><div class="t num" style="left:257.46px;top:166px;width:51.65px;">-43%</div><div class="t num" style="left:314.18px;top:166px;width:51.65px;">42%</div><div class="t lbl" style="left:6.4px;top:190px;width:78.7px;font-size:9.3px;letter-spacing:.25px">Foodstuff</div><div class="t num" style="left:87.3px;top:190px;width:51.65px;">9%</div><div class="t num" style="left:144.02px;top:190px;width:51.65px;">20%</div><div class="t num" style="left:200.74px;top:190px;width:51.65px;">47%</div><div class="t num" style="left:257.46px;top:190px;width:51.65px;">37%</div><div class="t num" style="left:314.18px;top:190px;width:51.65px;">42%</div><div class="t lbl" style="left:6.4px;top:208px;width:78.7px;font-size:9.3px;letter-spacing:.25px">Household</div><div class="t num" style="left:87.3px;top:208px;width:51.65px;">10%</div><div class="t num" style="left:144.02px;top:208px;width:51.65px;">27%</div><div class="t num" style="left:200.74px;top:208px;width:51.65px;">48%</div><div class="t num" style="left:257.46px;top:208px;width:51.65px;">35%</div><div class="t num" style="left:314.18px;top:208px;width:51.65px;">-103%</div><div class="t lbl" style="left:6.4px;top:226px;width:78.7px;font-size:9.3px;letter-spacing:.25px">Books</div><div class="t num" style="left:87.3px;top:226px;width:51.65px;">20%</div><div class="t num" style="left:144.02px;top:226px;width:51.65px;">1%</div><div class="t num" style="left:200.74px;top:226px;width:51.65px;">47%</div><div class="t num" style="left:257.46px;top:226px;width:51.65px;">35%</div><div class="t num" style="left:314.18px;top:226px;width:51.65px;">30%</div></div>
</div>
</div></body></html>
